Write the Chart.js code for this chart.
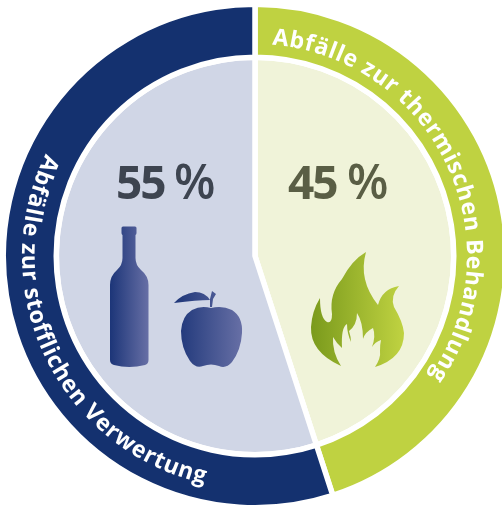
<!DOCTYPE html>
<html>
<head>
<meta charset="utf-8">
<style>
  html, body { margin: 0; padding: 0; background: #fff; }
  #myChart { display: block; }
</style>
<script src="https://cdn.jsdelivr.net/npm/chart.js@4"></script>
</head>
<body>
<canvas id="myChart" width="502" height="506"></canvas>
<script>
const categories = ["Abfälle zur thermischen Behandlung", "Abfälle zur stofflichen Verwertung"];
const shares = [45, 55];
const ringColors = ["#bfd241", "#14316f"];
const pieColors = ["#f0f3d9", "#d0d6e6"];
const percentColors = ["#5a5e45", "#3d4450"];

const cx = 255;
const cy = 256;

// letters placed one by one along a circle, dir 1 = clockwise, -1 = counter clockwise
function arcText(ctx, text, radius, startDeg, dir, spacing) {
  ctx.save();
  ctx.textAlign = "left";
  ctx.textBaseline = "alphabetic";
  ctx.fillStyle = "#fff";
  ctx.letterSpacing = "0px";
  let a = startDeg * Math.PI / 180;
  for (const ch of text) {
    const w = ctx.measureText(ch).width + spacing;
    const step = w / radius;
    const mid = a + dir * step / 2;
    ctx.save();
    ctx.translate(cx + radius * Math.sin(mid), cy - radius * Math.cos(mid));
    ctx.rotate(dir === 1 ? mid : mid + Math.PI);
    ctx.fillText(ch, -ctx.measureText(ch).width / 2, 0);
    ctx.restore();
    a += dir * step;
  }
  ctx.restore();
}

function percent(ctx, value, x, y, gap, color) {
  ctx.fillStyle = color;
  ctx.textAlign = "left";
  ctx.textBaseline = "alphabetic";
  ctx.font = "bold 46px 'Open Sans'";
  ctx.letterSpacing = "-2px";
  ctx.fillText(String(value), x, y);
  ctx.font = "600 48px 'Open Sans'";
  ctx.letterSpacing = "0px";
  ctx.fillText("%", x + gap, y);
}

function hGrad(ctx, x0, x1, c0, c1) {
  const g = ctx.createLinearGradient(x0, 0, x1, 0);
  g.addColorStop(0, c0);
  g.addColorStop(1, c1);
  return g;
}

function drawBottle(ctx) {
  ctx.fillStyle = hGrad(ctx, 110, 149, "#1c3578", "#6870a6");
  ctx.fill(new Path2D("M123 226.5 L135 226.5 Q136.5 226.5 136.5 228 L136.5 233 Q136.5 234.5 135.5 235 L135.5 258 Q135.5 265 141 270 Q148.5 276 148.5 285 L148.5 360 Q148.5 364 145 365 Q129 369 114 365 Q110 364 110 360 L110 285 Q110 276 117 270 Q122.5 265 122.5 258 L122.5 235 Q121.5 234.5 121.5 233 L121.5 228 Q121.5 226.5 123 226.5 Z"));
}

function drawApple(ctx) {
  ctx.fillStyle = hGrad(ctx, 174, 243, "#1c3578", "#6870a6");
  ctx.fill(new Path2D("M211 308 Q222 305 232 310 Q243 317 242 333 Q241 350 232 362 Q226 369 219 366 Q211 363 203 366 Q196 369 190 361 Q181 348 181 331 Q182 316 192 310 Q201 305 211 308 Z"));
  ctx.fill(new Path2D("M174 303 Q182 294 195 292 Q205 292 210 300 Q197 300 174 303 Z"));
  ctx.fill(new Path2D("M210 307 L210 299 L212 291 L216 294 L213 299 L212 307 Z"));
}

function drawFlame(ctx) {
  ctx.fillStyle = hGrad(ctx, 311, 403, "#7a9a1c", "#bfd241");
  ctx.fill(new Path2D("M341 366 Q310 352 311 327 Q312 311 320 298 Q320 318 327 322 Q332 324 332 314 Q329 294 342 279 Q352 260 366 252 Q358 280 378 305 Q382 289 399 286 Q390 296 394 307 Q403 322 404 333 Q404 358 375 367 Q381 358 380 351 Q380 344 381 340 Q375 342 372 347 Q376 336 373 328 Q365 332 363 339 Q363 322 357 313 Q357 325 349 331 Q351 337 351 342 Q347 333 347 324 Q341 327 342 348 Q337 344 333 337 Q332 352 341 366 Z"));
}

const overlay = {
  id: "overlay",
  afterDatasetsDraw(chart) {
    const ctx = chart.ctx;
    ctx.save();
    percent(ctx, shares[1], 116, 199, 58, percentColors[1]);
    percent(ctx, shares[0], 288, 199, 59, percentColors[0]);
    drawBottle(ctx);
    drawApple(ctx);
    drawFlame(ctx);
    ctx.font = "bold 23px 'Open Sans'";
    arcText(ctx, categories[0], 212, 4.5, 1, 0.75);
    arcText(ctx, categories[1], 233, -63.8, -1, 0.8);
    ctx.restore();
  }
};

new Chart(document.getElementById("myChart"), {
  type: "doughnut",
  data: {
    labels: categories,
    datasets: [
      {
        data: shares,
        backgroundColor: ringColors,
        borderColor: "#fff",
        borderWidth: 5.5,
        weight: 53,
        clip: false
      },
      {
        data: shares,
        backgroundColor: pieColors,
        borderColor: "#fff",
        borderWidth: 5.5,
        weight: 198.75,
        clip: false
      }
    ]
  },
  options: {
    responsive: false,
    animation: false,
    radius: 251.75,
    cutout: 0,
    layout: { padding: { left: 8, top: 6, right: 0, bottom: 0 } },
    plugins: { legend: { display: false }, tooltip: { enabled: false } }
  },
  plugins: [overlay]
});
</script>
</body>
</html>
